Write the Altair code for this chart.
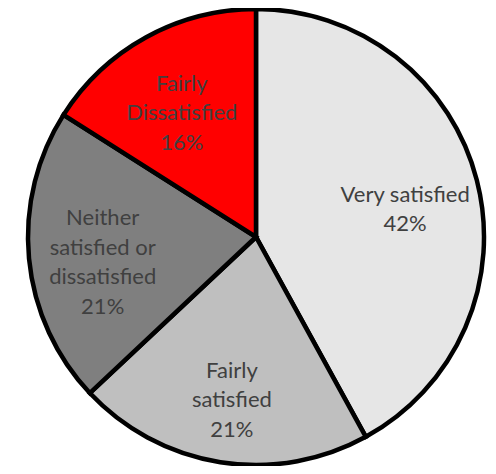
import altair as alt
import pandas as pd

categories = ["Very satisfied", "Fairly satisfied", "Neither satisfied or dissatisfied", "Fairly Dissatisfied"]
values = [42, 21, 21, 16]
label_text = ["Very satisfied", "Fairly\nsatisfied", "Neither\nsatisfied or\ndissatisfied", "Fairly\nDissatisfied"]
colors = ["#e6e6e6", "#bfbfbf", "#7f7f7f", "#ff0000"]

labels_full = [f"{t}\n{v}%" for t, v in zip(label_text, values)]
df = pd.DataFrame({
    "category": categories,
    "value": values,
    "order": list(range(len(categories))),
    "label": labels_full,
    "n": [s.count("\n") + 1 for s in labels_full],
})

LINE_H = 29.5
LABEL_SHIFT = 11

base = alt.Chart(df).encode(
    theta=alt.Theta("value:Q", stack=True),
    order=alt.Order("order:Q"),
)

arcs = base.mark_arc(outerRadius=228, stroke="black", strokeWidth=4.5).encode(
    color=alt.Color("category:N", scale=alt.Scale(domain=categories, range=colors), legend=None)
)

layers = [arcs]
for n in sorted(set(df["n"])):
    layers.append(
        base.transform_calculate(t=f"datum.n == {n} ? datum.label : ''")
        .mark_text(
            radius=154, lineBreak="\n", font="Lato", fontSize=22, lineHeight=LINE_H,
            color="#404040", align="center", baseline="middle",
            dy=-(n - 1) * LINE_H / 2 + LABEL_SHIFT,
        )
        .encode(text="t:N")
    )

chart = alt.layer(*layers).properties(
    width=480, height=458,
    padding={"left": 16, "top": 0, "right": 0, "bottom": 0},
    autosize=alt.AutoSizeParams(type="fit", contains="padding"),
).configure_view(stroke=None)

chart.save("out.html", embed_options={"renderer": "svg", "actions": False})
